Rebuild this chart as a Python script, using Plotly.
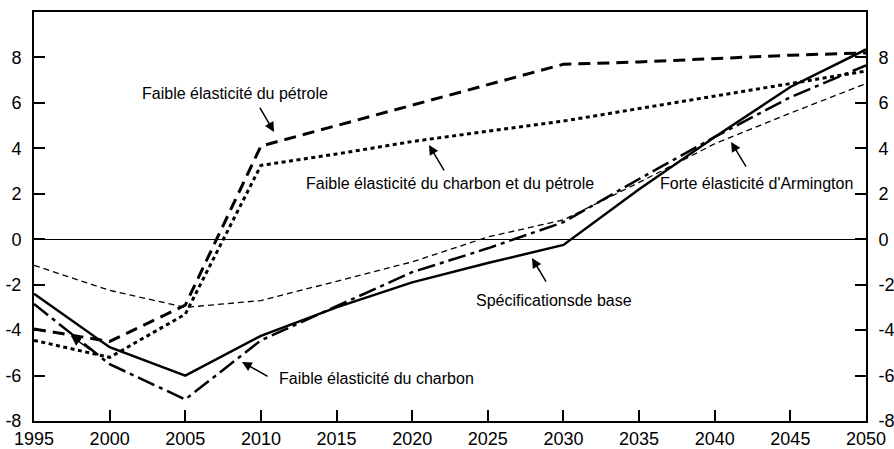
"""Scénarios d'élasticité : écart en % par rapport au niveau de référence, 1995-2050."""

import plotly.graph_objects as go

years = [1995, 2000, 2005, 2010, 2015, 2020, 2025, 2030, 2035, 2040, 2045, 2050]

base = [-2.4, -4.75, -6.0, -4.25, -3.0, -1.9, -1.05, -0.25, 2.2, 4.5, 6.7, 8.35]
charbon = [-2.85, -5.5, -7.05, -4.45, -2.95, -1.45, -0.4, 0.75, 2.65, 4.5, 6.25, 7.65]
armington = [-1.15, -2.25, -3.0, -2.7, -1.85, -1.0, 0.1, 0.85, 2.5, 4.2, 5.55, 6.85]
petrole = [-3.95, -4.5, -2.9, 4.1, 5.0, 5.9, 6.8, 7.7, 7.8, 7.95, 8.1, 8.2]
charbon_petrole = [-4.45, -5.2, -3.3, 3.25, 3.75, 4.3, 4.75, 5.2, 5.75, 6.3, 6.85, 7.4]

y_ticks = [-8, -6, -4, -2, 0, 2, 4, 6, 8]
y_ticktext = ["-8", "-6", "-4", "-2", "0", "2", "4", "6", "8"]  # trait d'union, pas de signe moins

TICK_FONT = dict(family="Liberation Sans, Arial", size=18, color="black")
TEXT_FONT = dict(family="Liberation Sans, Arial", size=16, color="black")

fig = go.Figure()

# (valeurs, style du trait)
series = [
    (armington, dict(color="black", width=1.3, dash="6px,4px")),
    (charbon_petrole, dict(color="black", width=3, dash="4px,3.5px")),
    (petrole, dict(color="black", width=3, dash="12px,7px")),
    (charbon, dict(color="black", width=2.5, dash="18px,5px,4px,5px")),
    (base, dict(color="black", width=2.5)),
]
for values, line in series:
    fig.add_trace(go.Scatter(x=years, y=values, mode="lines", line=line,
                             showlegend=False, hoverinfo="skip"))

# étiquettes et flèches (position du texte, queue et pointe de la flèche)
labels = [
    ("Faible élasticité du pétrole", (2008.3, 6.43), (2009.87, 5.86), (2010.87, 4.72)),
    ("Faible élasticité du charbon et du pétrole", (2022.5, 2.47), (2022.17, 2.96), (2021.11, 4.15)),
    ("Forte élasticité d'Armington", (2042.73, 2.47), (2042.13, 3.13), (2041.08, 4.28)),
    ("Spécificationsde base", (2029.38, -2.68), (2028.91, -1.93), (2027.92, -0.83)),
    ("Faible élasticité du charbon", (2017.61, -6.11), (2010.54, -6.07), (2008.75, -5.40)),
    ("", None, (1998.83, -4.92), (1997.45, -4.26)),
]
for text, pos, tail, tip in labels:
    if pos is not None:
        fig.add_annotation(x=pos[0], y=pos[1], text=text, showarrow=False, font=TEXT_FONT)
    fig.add_annotation(
        x=tip[0], y=tip[1], ax=tail[0], ay=tail[1], axref="x", ayref="y",
        text="", showarrow=True, arrowhead=2, arrowsize=1.3, arrowwidth=1.5,
        arrowcolor="black",
    )

axis_common = dict(
    range=[-8, 10], tickvals=y_ticks, ticktext=y_ticktext, ticks="inside",
    ticklen=11, tickwidth=2, tickcolor="black", showline=True,
    linecolor="black", linewidth=2, showgrid=False, tickfont=TICK_FONT,
    automargin=False,
)

fig.update_layout(
    width=894,
    height=449,
    margin=dict(l=34, r=28, t=12, b=28),
    paper_bgcolor="white",
    plot_bgcolor="white",
    xaxis=dict(
        range=[1995, 2050], dtick=5, tick0=1995, ticks="inside", ticklen=11,
        tickwidth=2, tickcolor="black", showline=True, linecolor="black",
        linewidth=2, mirror=True, showgrid=False, zeroline=False,
        tickfont=TICK_FONT, automargin=False,
    ),
    yaxis=dict(**axis_common, ticklabelstandoff=7, zeroline=True,
               zerolinecolor="black", zerolinewidth=1.2),
    yaxis2=dict(**axis_common, ticklabelstandoff=7, overlaying="y", side="right",
                zeroline=False),
)
fig.add_trace(go.Scatter(x=[None], y=[None], yaxis="y2", showlegend=False, hoverinfo="skip"))

# la page ne doit pas ajouter sa marge par défaut autour du graphique
fig.write_html(
    "out.html",
    config={"displayModeBar": False},
    post_script="document.body.style.margin='0';document.body.style.overflow='hidden';",
)
